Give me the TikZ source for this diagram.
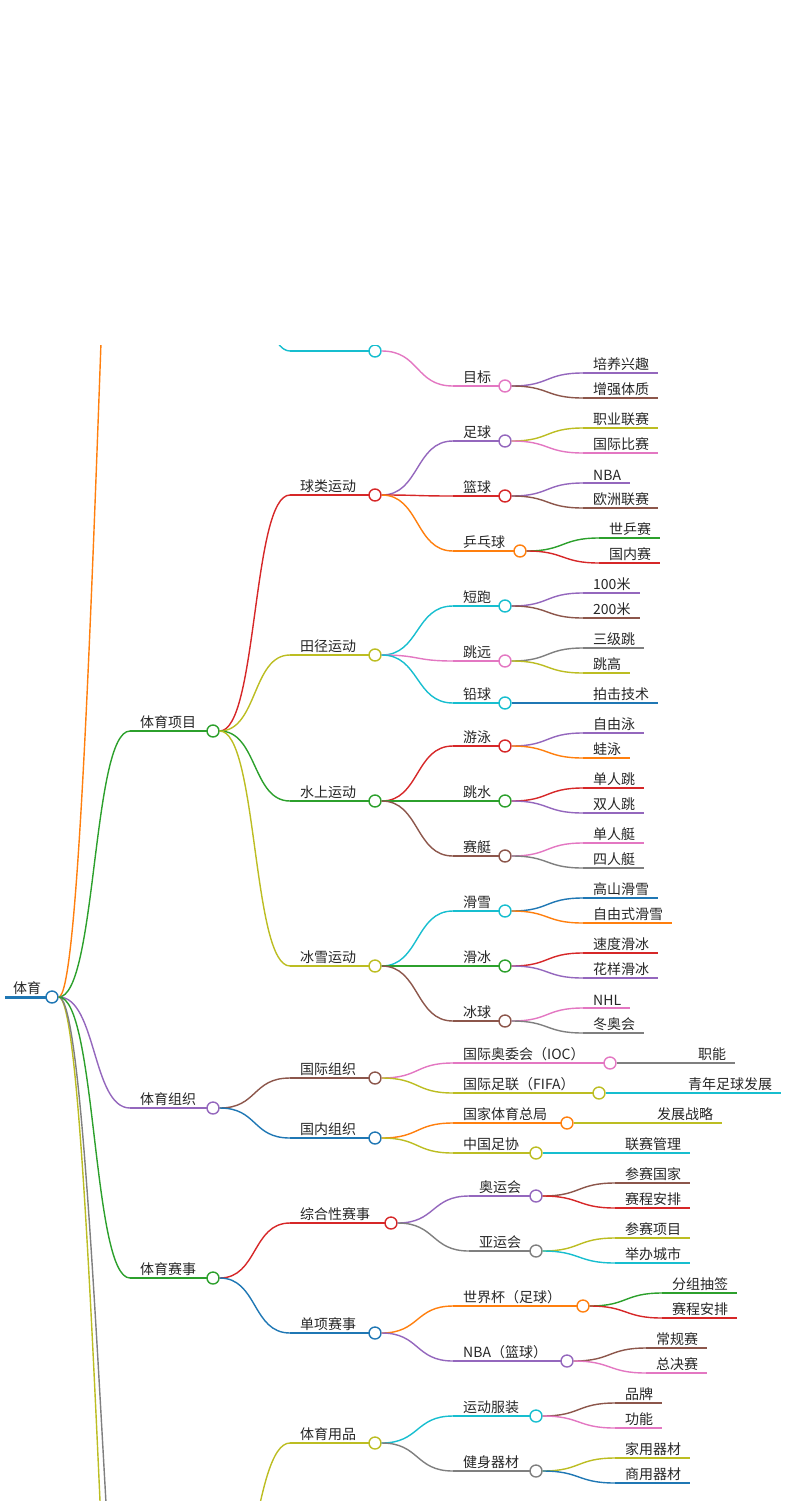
\documentclass[tikz,border=0pt]{standalone}
\usepackage{fontspec}
\setmainfont{Noto Sans CJK SC}
\usetikzlibrary{calc}
\definecolor{cB}{HTML}{1F77B4}\definecolor{cO}{HTML}{FF7F0E}\definecolor{cG}{HTML}{2CA02C}
\definecolor{cR}{HTML}{D62728}\definecolor{cP}{HTML}{9467BD}\definecolor{cN}{HTML}{8C564B}
\definecolor{cK}{HTML}{E377C2}\definecolor{cY}{HTML}{7F7F7F}\definecolor{cL}{HTML}{BCBD22}
\definecolor{cC}{HTML}{17BECF}
\tikzset{lw/.style={line width=1.4pt},
 dot/.style={circle,fill=white,line width=1.4pt,minimum size=12pt,inner sep=0pt},
 lbl/.style={anchor=south west,inner sep=0pt,font=\fontsize{14}{14}\selectfont,text=black!85}}
\newcommand\MN[6]{%
 \coordinate (#1s) at (#2,#4);
 \draw[#5,lw] (#1s) -- (#3,#4);
 \node[lbl] at (#2+10,#4-2) {#6};
 \node[dot,draw=#5] (#1) at (#3,#4) {};}
\newcommand\ML[3]{\draw[#1,lw] (#2.east) .. controls +(38,0) and +(-38,0) .. (#3s);}
\newcommand\LF[6]{% name parent xs y color text
 \coordinate (#1s) at (#3,#4);
 \node[lbl] (#1t) at (#3+10,#4-2) {#6};
 \path ($(#1t.east)+(9,0)$) coordinate (#1e);
 \ML{#5}{#2}{#1}
 \draw[#5,lw] (#1s) -- (#1s -| #1e);}
\begin{document}
\begin{tikzpicture}[x=1pt,y=-1pt]
\useasboundingbox (0,0) rectangle (799,1501);
\clip (0,345) rectangle (799,1501);
% root
\draw[cB,line width=3pt] (5,997) -- (52,997);
\node[lbl] at (13,995) {体育};
\node[dot,draw=cB] (r) at (52,997) {};
% tails
\coordinate (tOs) at (150,-500);
\coordinate (tLs) at (150,2200);
\coordinate (tYs) at (150,1950);
\ML{cO}{r}{tO}\ML{cL}{r}{tL}\ML{cY}{r}{tY}
% level 1
\MN{a}{130}{213}{731}{cG}{体育项目}\ML{cG}{r}{a}
\MN{b}{130}{213}{1108}{cP}{体育组织}\ML{cP}{r}{b}
\MN{c}{130}{213}{1278}{cG}{体育赛事}\ML{cG}{r}{c}
% top partial
\coordinate (pps) at (213,150);
\MN{pt}{290}{375}{351}{cC}{}\draw[cC,lw] (pps) .. controls +(38,0) and +(-38,0) .. (pts);
\MN{mb}{453}{505}{386}{cK}{目标}\ML{cK}{pt}{mb}
\LF{m1}{mb}{583}{373}{cP}{培养兴趣}
\LF{m2}{mb}{583}{398}{cN}{增强体质}
% 体育项目
\MN{a1}{290}{375}{495}{cR}{球类运动}\ML{cR}{a}{a1}
\MN{a2}{290}{375}{655}{cL}{田径运动}\ML{cL}{a}{a2}
\MN{a3}{290}{375}{801}{cG}{水上运动}\ML{cG}{a}{a3}
\MN{a4}{290}{375}{966}{cL}{冰雪运动}\ML{cL}{a}{a4}
\MN{q1}{453}{505}{441}{cP}{足球}\ML{cP}{a1}{q1}
\MN{q2}{453}{505}{496}{cR}{篮球}\ML{cR}{a1}{q2}
\MN{q3}{453}{520}{551}{cO}{乒乓球}\ML{cO}{a1}{q3}
\LF{q11}{q1}{583}{428}{cL}{职业联赛}\LF{q12}{q1}{583}{453}{cK}{国际比赛}
\LF{q21}{q2}{583}{483}{cP}{NBA}\LF{q22}{q2}{583}{508}{cN}{欧洲联赛}
\LF{q31}{q3}{599}{538}{cG}{世乒赛}\LF{q32}{q3}{599}{563}{cR}{国内赛}
\MN{t1}{453}{505}{606}{cC}{短跑}\ML{cC}{a2}{t1}
\MN{t2}{453}{505}{661}{cK}{跳远}\ML{cK}{a2}{t2}
\MN{t3}{453}{505}{703}{cC}{铅球}\ML{cC}{a2}{t3}
\LF{t11}{t1}{583}{593}{cP}{100米}\LF{t12}{t1}{583}{618}{cN}{200米}
\LF{t21}{t2}{583}{648}{cY}{三级跳}\LF{t22}{t2}{583}{673}{cL}{跳高}
\LF{t31}{t3}{583}{703}{cB}{拍击技术}
\MN{w1}{453}{505}{746}{cR}{游泳}\ML{cR}{a3}{w1}
\MN{w2}{453}{505}{801}{cG}{跳水}\ML{cG}{a3}{w2}
\MN{w3}{453}{505}{856}{cN}{赛艇}\ML{cN}{a3}{w3}
\LF{w11}{w1}{583}{733}{cP}{自由泳}\LF{w12}{w1}{583}{758}{cO}{蛙泳}
\LF{w21}{w2}{583}{788}{cR}{单人跳}\LF{w22}{w2}{583}{813}{cP}{双人跳}
\LF{w31}{w3}{583}{843}{cK}{单人艇}\LF{w32}{w3}{583}{868}{cY}{四人艇}
\MN{i1}{453}{505}{911}{cC}{滑雪}\ML{cC}{a4}{i1}
\MN{i2}{453}{505}{966}{cG}{滑冰}\ML{cG}{a4}{i2}
\MN{i3}{453}{505}{1021}{cN}{冰球}\ML{cN}{a4}{i3}
\LF{i11}{i1}{583}{898}{cB}{高山滑雪}\LF{i12}{i1}{583}{923}{cO}{自由式滑雪}
\LF{i21}{i2}{583}{953}{cR}{速度滑冰}\LF{i22}{i2}{583}{978}{cP}{花样滑冰}
\LF{i31}{i3}{583}{1008}{cK}{NHL}\LF{i32}{i3}{583}{1033}{cY}{冬奥会}
% 体育组织
\MN{b1}{290}{375}{1078}{cN}{国际组织}\ML{cN}{b}{b1}
\MN{b2}{290}{375}{1138}{cB}{国内组织}\ML{cB}{b}{b2}
\MN{o1}{453}{610}{1063}{cK}{国际奥委会（IOC）}\ML{cK}{b1}{o1}
\MN{o2}{453}{599}{1093}{cL}{国际足联（FIFA）}\ML{cL}{b1}{o2}
\MN{o3}{453}{567}{1123}{cO}{国家体育总局}\ML{cO}{b2}{o3}
\MN{o4}{453}{536}{1153}{cL}{中国足协}\ML{cL}{b2}{o4}
\LF{o11}{o1}{688}{1063}{cY}{职能}
\LF{o21}{o2}{678}{1093}{cC}{青年足球发展}
\LF{o31}{o3}{647}{1123}{cL}{发展战略}
\LF{o41}{o4}{615}{1153}{cC}{联赛管理}
% 体育赛事
\MN{c1}{290}{391}{1223}{cR}{综合性赛事}\ML{cR}{c}{c1}
\MN{c2}{290}{375}{1333}{cB}{单项赛事}\ML{cB}{c}{c2}
\MN{e1}{469}{536}{1196}{cP}{奥运会}\ML{cP}{c1}{e1}
\MN{e2}{469}{536}{1251}{cY}{亚运会}\ML{cY}{c1}{e2}
\MN{e3}{453}{583}{1306}{cO}{世界杯（足球）}\ML{cO}{c2}{e3}
\MN{e4}{453}{567}{1361}{cP}{NBA（篮球）}\ML{cP}{c2}{e4}
\LF{e11}{e1}{615}{1183}{cN}{参赛国家}\LF{e12}{e1}{615}{1208}{cR}{赛程安排}
\LF{e21}{e2}{615}{1238}{cL}{参赛项目}\LF{e22}{e2}{615}{1263}{cC}{举办城市}
\LF{e31}{e3}{662}{1293}{cG}{分组抽签}\LF{e32}{e3}{662}{1318}{cR}{赛程安排}
\LF{e41}{e4}{646}{1348}{cN}{常规赛}\LF{e42}{e4}{646}{1373}{cK}{总决赛}
% 体育用品
\coordinate (yys) at (213,1650);
\MN{d1}{290}{375}{1443}{cL}{体育用品}\draw[cL,lw] (yys) .. controls +(38,0) and +(-38,0) .. (d1s);
\MN{u1}{453}{536}{1416}{cC}{运动服装}\ML{cC}{d1}{u1}
\MN{u2}{453}{536}{1471}{cY}{健身器材}\ML{cY}{d1}{u2}
\LF{u11}{u1}{615}{1403}{cN}{品牌}\LF{u12}{u1}{615}{1428}{cK}{功能}
\LF{u21}{u2}{615}{1458}{cL}{家用器材}\LF{u22}{u2}{615}{1483}{cB}{商用器材}
\end{tikzpicture}
\end{document}
